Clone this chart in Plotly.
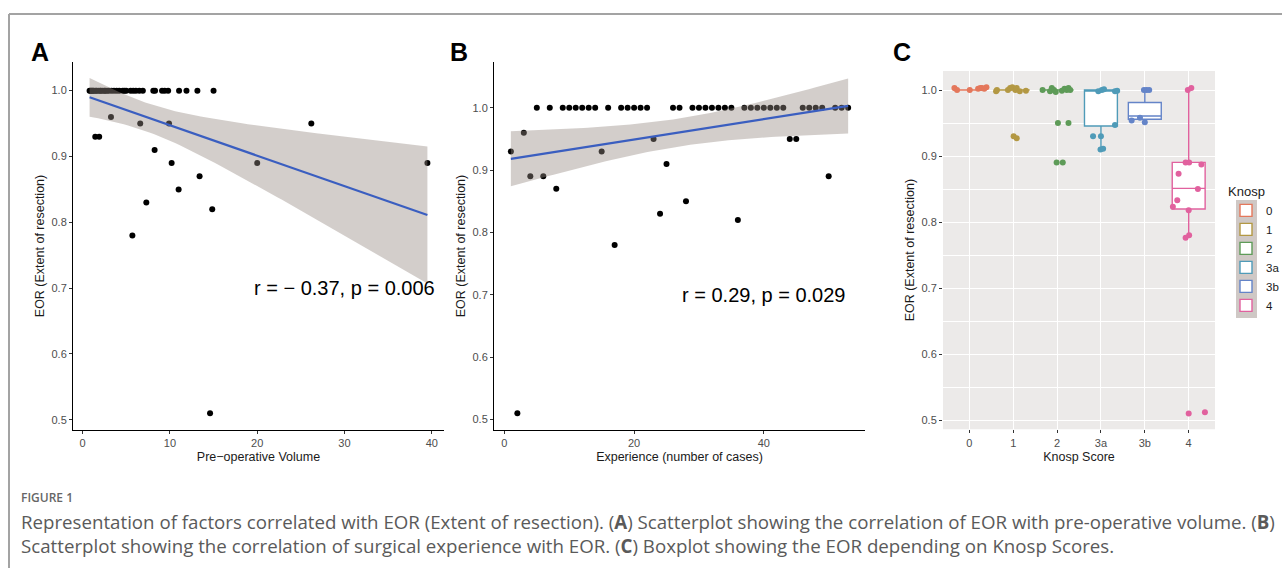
import numpy as np
import plotly.graph_objects as go

# ---------------- data ----------------
# Panel A: pre-operative volume vs EOR
volume = [0.8, 0.9, 1.0, 1.1, 1.2, 1.3, 1.5, 1.6, 1.8, 2.0, 2.1, 2.3, 2.5, 2.6, 2.8, 3.0,
          3.3, 3.6, 3.9, 4.2, 4.6, 4.8, 5.0, 5.5, 5.8, 6.1, 6.5, 6.9, 8.1, 8.3, 9.1, 9.4,
          9.8, 11.05, 11.9, 13.15, 15.0,
          1.45, 1.9, 3.25, 6.6, 9.9, 26.2, 8.25, 10.2, 20.0, 39.5, 13.4, 11.0, 7.3, 14.85, 5.7, 14.6]
eor_a = [1.0] * 37 + [0.93, 0.93, 0.96, 0.95, 0.95, 0.95, 0.91, 0.89, 0.89, 0.89, 0.87, 0.85,
                      0.83, 0.82, 0.78, 0.51]

# Panel B: surgical experience vs EOR
experience = list(range(1, 54))
eor_b = [0.93, 0.51, 0.96, 0.89, 1.0, 0.89, 1.0, 0.87, 1.0, 1.0, 1.0, 1.0, 1.0, 1.0, 0.93, 1.0,
         0.78, 1.0, 1.0, 1.0, 1.0, 1.0, 0.95, 0.83, 0.91, 1.0, 1.0, 0.85, 1.0, 1.0, 1.0, 1.0,
         1.0, 1.0, 1.0, 0.82, 1.0, 1.0, 1.0, 1.0, 1.0, 1.0, 1.0, 0.95, 0.95, 1.0, 1.0, 1.0,
         1.0, 0.89, 1.0, 1.0, 1.0]

label_a = "r = \u2212 0.37, p = 0.006"
label_b = "r = 0.29, p = 0.029"

# Panel C: Knosp score groups
knosp = ["0", "1", "2", "3a", "3b", "4"]
eor_c = [
    [1.003, 1.0, 1.0, 1.002, 1.003, 1.003, 1.002, 1.004],
    [0.998, 1.0, 1.0, 1.003, 1.004, 1.0, 1.003, 0.998, 0.999, 0.93, 0.927],
    [1.0, 0.998, 1.003, 1.0, 0.997, 0.999, 1.002, 1.0, 1.003, 1.0, 0.95, 0.95, 0.89, 0.89],
    [0.998, 1.0, 1.001, 0.998, 0.999, 0.947, 0.93, 0.93, 0.91, 0.911],
    [1.0, 1.0, 1.0, 0.954, 0.958, 0.951],
    [1.0, 1.003, 0.89, 0.89, 0.887, 0.873, 0.85, 0.833, 0.823, 0.818, 0.78, 0.776, 0.51, 0.512],
]
jitter_c = [
    [-0.34, -0.28, 0.01, 0.2, 0.25, 0.29, 0.34, 0.39],
    [-0.39, -0.37, -0.12, -0.07, -0.02, 0.05, 0.08, 0.15, 0.29, 0.01, 0.08],
    [-0.33, -0.16, -0.12, -0.07, -0.03, 0.11, 0.17, 0.22, 0.26, 0.3, 0.02, 0.26, -0.01, 0.13],
    [-0.06, 0.02, 0.07, 0.32, 0.37, 0.32, -0.18, 0.0, -0.01, 0.05],
    [-0.02, 0.04, 0.1, -0.3, -0.11, 0.0],
    [-0.02, 0.06, -0.07, 0.01, 0.29, -0.23, 0.21, -0.26, -0.36, 0.0, 0.01, -0.07, 0.0, 0.37],
]
box_q1 = [1.0, 1.0, 1.0, 0.9455, 0.9556, 0.8197]
box_median = [1.0, 1.0, 1.0, 1.0, 0.9606, 0.851]
box_q3 = [1.0, 1.0, 1.0, 1.0, 0.981, 0.8904]
box_low = [1.0, 1.0, 1.0, 0.911, 0.9556, 0.778]
box_high = [1.0, 1.0, 1.0, 1.0, 1.0, 1.0]

caption_head = "FIGURE 1"
caption_1 = ("Representation of factors correlated with EOR (Extent of resection). (<b>A</b>) "
             "Scatterplot showing the correlation of EOR with pre-operative volume. (<b>B</b>)")
caption_2 = ("Scatterplot showing the correlation of surgical experience with EOR. (<b>C</b>) "
             "Boxplot showing the EOR depending on Knosp Scores.")

# ---------------- styles ----------------
W, H = 1282, 568
knosp_colors = ["#E4775B", "#B39843", "#5E9B58", "#4F9BB8", "#6484C8", "#E1619E"]
ribbon_col = "rgba(150,138,132,0.42)"
line_col = "#3A5EC0"
tick_font = dict(family="Liberation Sans, Arial", size=11, color="#4d4d4d")
title_font = dict(family="Liberation Sans, Arial", size=12.5, color="#1a1a1a")


def px_x(p):
    return p / W


def px_y(p):
    return 1 - p / H


def lm_band(x, y, n=80, t=2.0076):
    x = np.asarray(x, float)
    y = np.asarray(y, float)
    b, a = np.polyfit(x, y, 1)
    xs = np.linspace(x.min(), x.max(), n)
    yhat = a + b * xs
    resid = y - (a + b * x)
    s = np.sqrt(np.sum(resid ** 2) / (len(x) - 2))
    se = s * np.sqrt(1 / len(x) + (xs - x.mean()) ** 2 / np.sum((x - x.mean()) ** 2))
    return xs, yhat, yhat - t * se, yhat + t * se


fig = go.Figure()

# Panel A & B scatter with lm smooth
for (xv, yv, xa, ya) in [(volume, eor_a, "x", "y"), (experience, eor_b, "x2", "y2")]:
    fig.add_trace(go.Scatter(x=xv, y=yv, mode="markers", xaxis=xa, yaxis=ya,
                             marker=dict(color="black", size=6), showlegend=False))
    xs, yh, lo, hi = lm_band(xv, yv)
    fig.add_trace(go.Scatter(x=np.concatenate([xs, xs[::-1]]), y=np.concatenate([hi, lo[::-1]]),
                             fill="toself", fillcolor=ribbon_col, line=dict(width=0),
                             mode="lines", xaxis=xa, yaxis=ya, showlegend=False, hoverinfo="skip"))
    fig.add_trace(go.Scatter(x=xs, y=yh, mode="lines", line=dict(color=line_col, width=2.2),
                             xaxis=xa, yaxis=ya, showlegend=False))

# Panel C boxes
for i, g in enumerate(knosp):
    fig.add_trace(go.Box(x=[i], q1=[box_q1[i]], median=[box_median[i]], q3=[box_q3[i]],
                         lowerfence=[box_low[i]], upperfence=[box_high[i]], width=0.75,
                         fillcolor="white", line=dict(color=knosp_colors[i], width=1.4),
                         whiskerwidth=0, name=g, xaxis="x3", yaxis="y3", boxpoints=False,
                         legendgroup=g))
for i, g in enumerate(knosp):
    fig.add_trace(go.Scatter(x=[i + j for j in jitter_c[i]], y=eor_c[i], mode="markers",
                             marker=dict(color=knosp_colors[i], size=6), xaxis="x3", yaxis="y3",
                             showlegend=False, legendgroup=g))

axis_common = dict(showline=True, linecolor="black", linewidth=1, ticks="outside", ticklen=3,
                   tickcolor="#333", tickfont=tick_font, showgrid=False, zeroline=False,
                   automargin=False)

fig.update_layout(
    width=W, height=H, margin=dict(l=0, r=0, t=0, b=0, autoexpand=False),
    paper_bgcolor="white", plot_bgcolor="white",
    xaxis=dict(domain=[px_x(73), px_x(444)], range=[-1.1, 41.4], tickvals=[0, 10, 20, 30, 40],
               title=dict(text="Pre\u2212operative Volume", font=title_font, standoff=4),
               anchor="y", **axis_common),
    yaxis=dict(domain=[px_y(430), px_y(62)], range=[0.4845, 1.0435],
               tickvals=[0.5, 0.6, 0.7, 0.8, 0.9, 1.0], tickformat=".1f",
               title=dict(text="EOR (Extent of resection)", font=title_font, standoff=4),
               anchor="x", **axis_common),
    xaxis2=dict(domain=[px_x(494), px_x(865)], range=[-1.6, 55.6], tickvals=[0, 20, 40],
                title=dict(text="Experience (number of cases)", font=title_font, standoff=4),
                anchor="y2", **axis_common),
    yaxis2=dict(domain=[px_y(430), px_y(62)], range=[0.483, 1.0735],
                tickvals=[0.5, 0.6, 0.7, 0.8, 0.9, 1.0], tickformat=".1f",
                title=dict(text="EOR (Extent of resection)", font=title_font, standoff=4),
                anchor="x2", **axis_common),
    xaxis3=dict(domain=[px_x(943), px_x(1215)], range=[-0.6, 5.6], tickvals=list(range(6)),
                ticktext=knosp, showline=False, ticks="outside", ticklen=3, tickcolor="#333",
                tickfont=tick_font, showgrid=True, gridcolor="white", gridwidth=1.1,
                zeroline=False, anchor="y3", automargin=False,
                title=dict(text="Knosp Score", font=title_font, standoff=4)),
    yaxis3=dict(domain=[px_y(429.3), px_y(71)], range=[0.486, 1.0288],
                tickvals=[0.5, 0.6, 0.7, 0.8, 0.9, 1.0], tickformat=".1f", showline=False,
                ticks="outside", ticklen=3, tickcolor="#333", tickfont=tick_font,
                showgrid=True, gridcolor="white", gridwidth=1.1, zeroline=False, anchor="x3",
                automargin=False,
                minor=dict(tickvals=[0.55, 0.65, 0.75, 0.85, 0.95], showgrid=True,
                           gridcolor="white", gridwidth=0.5, ticks=""),
                title=dict(text="EOR (Extent of resection)", font=title_font, standoff=4)),
    legend=dict(x=px_x(1226), y=px_y(179), xanchor="left", yanchor="top",
                bgcolor="rgba(0,0,0,0)", tracegroupgap=0,
                title=dict(text="Knosp", font=dict(family="Liberation Sans, Arial", size=13,
                                                   color="#1a1a1a")),
                font=dict(family="Liberation Sans, Arial", size=11.5, color="#1a1a1a")),
    showlegend=True,
)

# Panel C background, legend key background, figure frame
fig.add_shape(type="rect", xref="x3 domain", yref="y3 domain", x0=0, x1=1, y0=0, y1=1,
              fillcolor="#ECEAE9", line=dict(width=0), layer="below")
fig.add_shape(type="rect", xref="paper", yref="paper", x0=px_x(1236), x1=px_x(1257),
              y0=px_y(318), y1=px_y(200), fillcolor="#CFC8C5", line=dict(width=0), layer="below")
fig.add_shape(type="line", xref="paper", yref="paper", x0=px_x(9), x1=1, y0=px_y(14), y1=px_y(14),
              line=dict(color="#a3a3a3", width=2))
fig.add_shape(type="line", xref="paper", yref="paper", x0=px_x(9), x1=px_x(9), y0=px_y(14), y1=0,
              line=dict(color="#a3a3a3", width=2))

# correlation labels
fig.add_annotation(x=30, y=0.70, xref="x", yref="y", text=label_a, showarrow=False,
                   xanchor="center", yanchor="middle",
                   font=dict(family="Liberation Sans, Arial", size=20, color="black"))
fig.add_annotation(x=40, y=0.70, xref="x2", yref="y2", text=label_b, showarrow=False,
                   xanchor="center", yanchor="middle",
                   font=dict(family="Liberation Sans, Arial", size=20, color="black"))

# panel letters
for letter, cx in [("A", 40), ("B", 458.5), ("C", 902)]:
    fig.add_annotation(x=px_x(cx), y=px_y(52), xref="paper", yref="paper", text=f"<b>{letter}</b>",
                       showarrow=False, xanchor="center", yanchor="middle",
                       font=dict(family="Liberation Sans, Arial", size=25, color="black"))

# caption
cap_font = dict(family="Open Sans", size=18.7, color="#5a5a5a")
fig.add_annotation(x=px_x(19), y=px_y(497), xref="paper", yref="paper", text=caption_head,
                   showarrow=False, xanchor="left", yanchor="middle",
                   font=dict(family="Open Sans", size=12, color="#666666", weight=600))
fig.add_annotation(x=px_x(19), y=px_y(521), xref="paper", yref="paper", text=caption_1,
                   showarrow=False, xanchor="left", yanchor="middle", font=cap_font)
fig.add_annotation(x=px_x(19), y=px_y(545), xref="paper", yref="paper", text=caption_2,
                   showarrow=False, xanchor="left", yanchor="middle", font=cap_font)

fig.write_html("out.html", config={"displayModeBar": False},
               post_script="document.body.style.margin='0';")
